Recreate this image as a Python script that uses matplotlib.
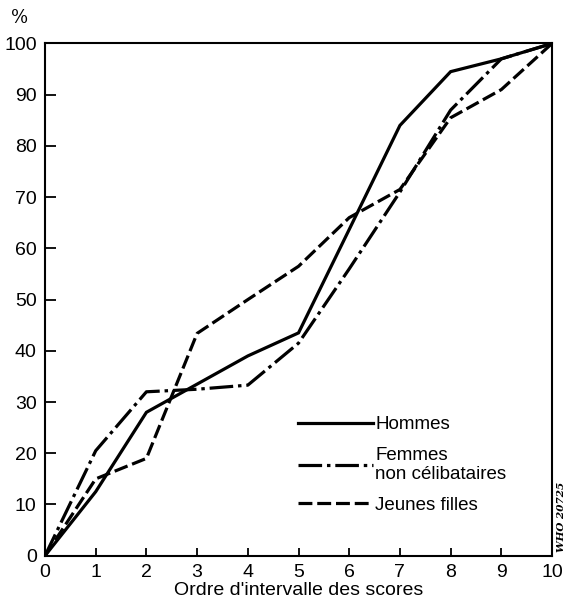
import matplotlib
matplotlib.use("Agg")
import matplotlib.pyplot as plt

plt.rcParams['font.family'] = ['Liberation Sans Narrow', 'Liberation Sans', 'DejaVu Sans']
plt.rcParams['lines.scale_dashes'] = False

# cumulative percentages by score interval
scores = list(range(11))
hommes = [0, 12.5, 28, 33.5, 39, 43.5, 63.7, 84, 94.5, 97, 100]
femmes = [0, 20.5, 32, 32.5, 33.3, 41.5, 56, 71, 87, 97, 100]
jeunes = [0, 15, 19, 43.4, 50, 56.5, 66, 71.5, 85.5, 91, 100]

labels = ['Hommes', 'Femmes\nnon célibataires', 'Jeunes filles']

fig = plt.figure(figsize=(5.72, 6.08), dpi=100)
ax = fig.add_axes([0.0787, 0.086, 0.8864, 0.8425])

lw = 2.3
ax.plot(scores, hommes, color='black', lw=lw, solid_joinstyle='miter', label=labels[0])
ax.plot(scores, femmes, color='black', lw=lw, dashes=(17, 3.5, 2.5, 3.5), label=labels[1])
ax.plot(scores, jeunes, color='black', lw=lw, dashes=(10, 3.5), label=labels[2])

ax.set_xlim(0, 10)
ax.set_ylim(0, 100)
ax.set_xticks(range(0, 11))
ax.set_yticks(range(0, 101, 10))
ax.tick_params(direction='in', length=6, width=1.3, labelsize=14, pad=6)
ax.tick_params(axis='y', length=8)
for s in ax.spines.values():
    s.set_linewidth(1.5)

ax.set_xlabel("Ordre d'intervalle des scores", fontsize=14, labelpad=1)

leg = ax.legend(loc='upper left', bbox_to_anchor=(0.481, 0.291), frameon=False,
                fontsize=13.5, handlelength=4.0, handletextpad=0.1,
                labelspacing=0.72, borderpad=0)

fig.text(0.035, 0.985, '%', fontsize=13, ha='center', va='top', fontfamily='serif')
fig.text(0.982, 0.15, 'WHO 20725', rotation=90, fontsize=7.5, ha='center', va='center',
         fontfamily='serif', fontweight='bold', fontstyle='italic')

fig.savefig('out.png', dpi=100)
